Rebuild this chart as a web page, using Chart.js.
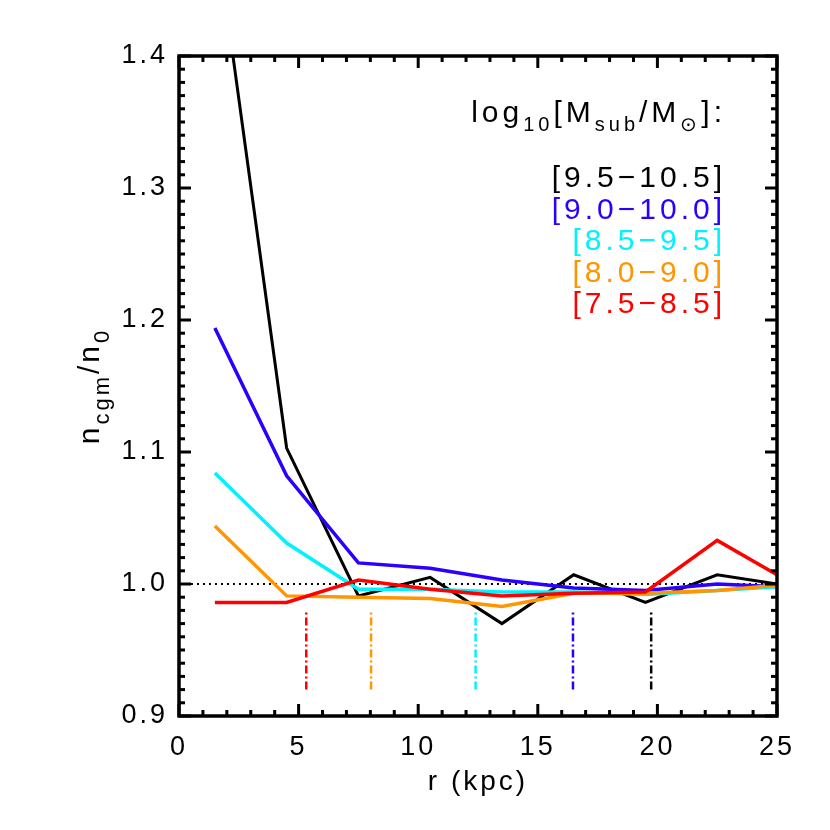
<!DOCTYPE html>
<html>
<head>
<meta charset="utf-8">
<script src="https://cdn.jsdelivr.net/npm/chart.js@4.4.0/dist/chart.umd.min.js"></script>
<style>
  html, body { margin: 0; padding: 0; background: #fff; }
  #wrap { width: 830px; height: 830px; }
</style>
</head>
<body>
<div id="wrap"><canvas id="myChart" width="830" height="830"></canvas></div>
<script>
// r (kpc) of each radial bin
const radius = [1.5, 4.5, 7.5, 10.5, 13.5, 16.5, 19.5, 22.5, 25];
// subhalo mass bins, log10[Msub/Msun]
const massBins = ['[9.5\u221210.5]', '[9.0\u221210.0]', '[8.5\u22129.5]', '[8.0\u22129.0]', '[7.5\u22128.5]'];
const binColors = ['#000000', '#2a00ff', '#00f2ff', '#ff9500', '#ff0000'];
// n_cgm / n_0 per mass bin
const nBin95 = [1.500, 1.103, 0.991, 1.005, 0.970, 1.007, 0.986, 1.007, 1.000];
const nBin90 = [1.194, 1.082, 1.016, 1.012, 1.003, 0.997, 0.995, 1.000, 0.998];
const nBin85 = [1.084, 1.031, 0.996, 0.996, 0.994, 0.994, 0.992, 0.995, 0.998];
const nBin80 = [1.044, 0.991, 0.990, 0.989, 0.983, 0.993, 0.993, 0.995, 0.999];
const nBin75 = [0.986, 0.986, 1.003, 0.996, 0.991, 0.993, 0.994, 1.033, 1.007];
// dash-dot markers (r in kpc) for each bin, and their vertical extent
const markerR = [19.74, 16.47, 12.40, 8.03, 5.32];
const markerY = [0.920, 0.979];
const refLine = 1.0;
const xTicks = [0, 5, 10, 15, 20, 25];
const yTicks = [0.9, 1.0, 1.1, 1.2, 1.3, 1.4];

const FONT = "'Liberation Sans', Arial, sans-serif";
const series = [nBin95, nBin90, nBin85, nBin80, nBin75];

const datasets = [];
series.forEach((vals, i) => {
  datasets.push({
    label: massBins[i],
    data: radius.map((r, k) => ({ x: r, y: vals[k] })),
    borderColor: binColors[i],
    borderWidth: i === 0 ? 3 : 3.5,
    pointRadius: 0,
    tension: 0,
    fill: false,
    order: 10 - i
  });
  // 標記線
  datasets.push({
    label: 'marker ' + massBins[i],
    data: markerY.map(v => ({ x: markerR[i], y: v })),
    borderColor: binColors[i],
    borderWidth: 2.5,
    borderDash: [8, 3, 2, 3],
    pointRadius: 0,
    fill: false,
    order: 20
  });
});
datasets.push({
  label: 'n0',
  data: [{ x: 0.5, y: refLine }, { x: 25, y: refLine }],
  borderColor: '#000',
  borderWidth: 2,
  borderDash: [2, 4],
  pointRadius: 0,
  fill: false,
  order: 30
});

// 字距
const spacing = {
  id: 'spacing',
  beforeDraw(chart) { chart.ctx.letterSpacing = '3px'; }
};

// 框線、內側刻度、圖例文字、y 軸標題
const frame = {
  id: 'frame',
  afterDraw(chart) {
    const { ctx, chartArea: a, scales: { x, y } } = chart;
    ctx.save();
    ctx.strokeStyle = '#000';
    ctx.lineWidth = 3.5;
    ctx.strokeRect(a.left, a.top, a.right - a.left, a.bottom - a.top);
    ctx.lineWidth = 3;
    const seg = (x1, y1, x2, y2) => {
      ctx.beginPath(); ctx.moveTo(x1, y1); ctx.lineTo(x2, y2); ctx.stroke();
    };
    for (let i = 0; i <= 25; i++) {
      const px = x.getPixelForValue(i);
      const len = i % 5 === 0 ? 12 : 6;
      seg(px, a.bottom, px, a.bottom - len);
      seg(px, a.top, px, a.top + len);
    }
    for (let i = 0; i <= 50; i++) {
      const py = y.getPixelForValue(0.9 + i * 0.01);
      const len = i % 10 === 0 ? 12 : 6;
      seg(a.left, py, a.left + len, py);
      seg(a.right, py, a.right - len, py);
    }

    // legend title: log10[Msub/M⊙]:
    ctx.letterSpacing = '4px';
    const big = '30px ' + FONT, small = '20px ' + FONT;
    const parts = [
      ['log', big, 0], ['10', small, 9], ['[M', big, 0], ['sub', small, 9],
      ['/M', big, 0], ['\u2299', small, 9], [']:', big, 0]
    ];
    let total = 0;
    parts.forEach(p => { ctx.font = p[1]; total += ctx.measureText(p[0]).width; });
    let tx = a.right - 51 - total;
    const ty = a.top + 66;
    ctx.fillStyle = '#000';
    ctx.textBaseline = 'alphabetic';
    ctx.textAlign = 'left';
    parts.forEach(p => {
      ctx.font = p[1];
      ctx.fillText(p[0], tx, ty + p[2]);
      tx += ctx.measureText(p[0]).width;
    });

    ctx.font = big;
    ctx.textAlign = 'right';
    massBins.forEach((lab, i) => {
      ctx.fillStyle = binColors[i];
      ctx.fillText(lab, a.right - 51, a.top + 131 + i * 31.6);
    });

    // y title: n_cgm / n_0
    ctx.letterSpacing = '3px';
    ctx.translate(99, 386);
    ctx.rotate(-Math.PI / 2);
    const yParts = [['n', big, 0], ['cgm', '22px ' + FONT, 10], ['/n', big, 0], ['0', '22px ' + FONT, 10]];
    let w = 0;
    yParts.forEach(p => { ctx.font = p[1]; w += ctx.measureText(p[0]).width; });
    let sx = -w / 2;
    ctx.fillStyle = '#000';
    ctx.textAlign = 'left';
    yParts.forEach(p => {
      ctx.font = p[1];
      ctx.fillText(p[0], sx, p[2]);
      sx += ctx.measureText(p[0]).width;
    });
    ctx.restore();
  }
};

const myChart = new Chart(document.getElementById('myChart'), {
  type: 'line',
  data: { datasets: datasets },
  options: {
    responsive: false,
    animation: false,
    layout: { padding: { top: 56, right: 53, left: 0, bottom: 0 } },
    plugins: { legend: { display: false }, tooltip: { enabled: false } },
    scales: {
      x: {
        type: 'linear',
        min: 0,
        max: 25,
        afterBuildTicks: s => { s.ticks = xTicks.map(v => ({ value: v })); },
        afterFit: s => { s.height = 114; },
        grid: { display: false, drawTicks: false },
        border: { display: false },
        ticks: { color: '#000', padding: 15, font: { size: 27, family: FONT }, maxRotation: 0 },
        title: { display: true, text: 'r (kpc)', color: '#000', font: { size: 28, family: FONT }, padding: { top: 0, bottom: 31 } }
      },
      y: {
        type: 'linear',
        min: 0.9,
        max: 1.4,
        afterBuildTicks: s => { s.ticks = yTicks.map(v => ({ value: v })); },
        afterFit: s => { s.width = 179; },
        grid: { display: false, drawTicks: false },
        border: { display: false },
        ticks: { color: '#000', padding: 11, font: { size: 27, family: FONT }, callback: v => Number(v).toFixed(1) }
      }
    }
  },
  plugins: [spacing, frame]
});
</script>
</body>
</html>
